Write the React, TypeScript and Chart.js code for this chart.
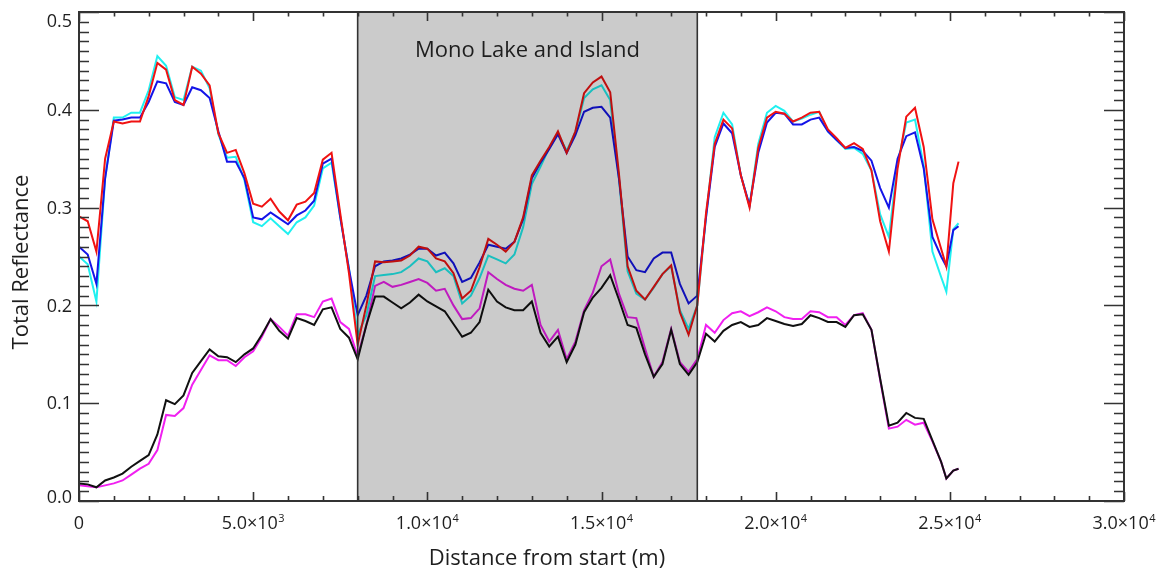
import React, { useEffect, useRef } from 'react';
import { Chart, registerables } from 'chart.js';

Chart.register(...registerables);

// Distance along the transect (m)
const distance = [
  0, 250, 500, 750, 1000, 1250, 1500, 1750, 2000, 2250,
  2500, 2750, 3000, 3250, 3500, 3750, 4000, 4250, 4500, 4750,
  5000, 5250, 5500, 5750, 6000, 6250, 6500, 6750, 7000, 7250,
  7500, 7750, 8000, 8250, 8500, 8750, 9000, 9250, 9500, 9750,
  10000, 10250, 10500, 10750, 11000, 11250, 11500, 11750, 12000, 12250,
  12500, 12750, 13000, 13250, 13500, 13750, 14000, 14250, 14500, 14750,
  15000, 15250, 15500, 15750, 16000, 16250, 16500, 16750, 17000, 17250,
  17500, 17750, 18000, 18250, 18500, 18750, 19000, 19250, 19500, 19750,
  20000, 20250, 20500, 20750, 21000, 21250, 21500, 21750, 22000, 22250,
  22500, 22750, 23000, 23250, 23500, 23750, 24000, 24250, 24500, 24750,
  24900, 25100, 25250,
];

const redSeries = [
  0.291, 0.286, 0.255, 0.350, 0.388, 0.386, 0.388, 0.388, 0.414, 0.448,
  0.441, 0.410, 0.405, 0.444, 0.437, 0.425, 0.376, 0.356, 0.359, 0.335,
  0.304, 0.301, 0.309, 0.296, 0.287, 0.303, 0.306, 0.315, 0.349, 0.356,
  0.294, 0.233, 0.160, 0.200, 0.245, 0.244, 0.245, 0.246, 0.251, 0.260,
  0.258, 0.248, 0.245, 0.233, 0.207, 0.215, 0.239, 0.268, 0.262, 0.255,
  0.265, 0.290, 0.333, 0.348, 0.362, 0.378, 0.356, 0.378, 0.417, 0.428,
  0.434, 0.418, 0.335, 0.240, 0.215, 0.206, 0.219, 0.232, 0.241, 0.193,
  0.170, 0.200, 0.294, 0.365, 0.390, 0.381, 0.333, 0.300, 0.361, 0.392,
  0.398, 0.396, 0.388, 0.392, 0.397, 0.398, 0.380, 0.371, 0.361, 0.366,
  0.360, 0.338, 0.286, 0.255, 0.340, 0.393, 0.402, 0.362, 0.288, 0.258,
  0.240, 0.325, 0.347,
];

const cyanSeries = [
  0.250, 0.242, 0.204, 0.330, 0.392, 0.392, 0.397, 0.397, 0.420, 0.455,
  0.445, 0.413, 0.410, 0.444, 0.440, 0.422, 0.375, 0.351, 0.352, 0.328,
  0.285, 0.281, 0.289, 0.281, 0.273, 0.285, 0.290, 0.302, 0.340, 0.346,
  0.290, 0.238, 0.170, 0.190, 0.230, 0.231, 0.232, 0.234, 0.240, 0.248,
  0.245, 0.234, 0.238, 0.230, 0.202, 0.210, 0.228, 0.251, 0.247, 0.243,
  0.252, 0.280, 0.324, 0.342, 0.361, 0.376, 0.358, 0.377, 0.412, 0.421,
  0.425, 0.410, 0.330, 0.235, 0.212, 0.206, 0.218, 0.232, 0.240, 0.195,
  0.176, 0.200, 0.290, 0.372, 0.397, 0.385, 0.333, 0.302, 0.365, 0.397,
  0.404, 0.399, 0.388, 0.391, 0.395, 0.398, 0.378, 0.369, 0.360, 0.361,
  0.355, 0.338, 0.293, 0.270, 0.345, 0.387, 0.390, 0.343, 0.255, 0.229,
  0.214, 0.278, 0.284,
];

const blueSeries = [
  0.260, 0.252, 0.222, 0.330, 0.389, 0.390, 0.392, 0.392, 0.408, 0.429,
  0.427, 0.408, 0.405, 0.423, 0.420, 0.412, 0.378, 0.347, 0.347, 0.330,
  0.290, 0.288, 0.295, 0.289, 0.283, 0.292, 0.297, 0.307, 0.345, 0.350,
  0.290, 0.237, 0.190, 0.210, 0.240, 0.245, 0.246, 0.248, 0.252, 0.258,
  0.258, 0.251, 0.254, 0.243, 0.224, 0.228, 0.244, 0.262, 0.260, 0.258,
  0.265, 0.288, 0.330, 0.346, 0.360, 0.375, 0.356, 0.374, 0.398, 0.402,
  0.403, 0.392, 0.330, 0.250, 0.236, 0.234, 0.248, 0.254, 0.254, 0.222,
  0.202, 0.210, 0.290, 0.362, 0.386, 0.376, 0.333, 0.302, 0.356, 0.387,
  0.397, 0.396, 0.385, 0.385, 0.390, 0.392, 0.378, 0.369, 0.361, 0.362,
  0.358, 0.348, 0.320, 0.300, 0.350, 0.373, 0.377, 0.340, 0.270, 0.250,
  0.240, 0.277, 0.281,
];

const magentaSeries = [
  0.016, 0.015, 0.014, 0.016, 0.018, 0.021, 0.027, 0.033, 0.038, 0.052,
  0.088, 0.087, 0.095, 0.119, 0.134, 0.149, 0.144, 0.144, 0.138, 0.147,
  0.153, 0.168, 0.186, 0.178, 0.169, 0.191, 0.191, 0.188, 0.204, 0.207,
  0.183, 0.176, 0.148, 0.180, 0.220, 0.224, 0.219, 0.221, 0.224, 0.227,
  0.223, 0.215, 0.217, 0.200, 0.186, 0.187, 0.197, 0.234, 0.227, 0.221,
  0.217, 0.215, 0.221, 0.180, 0.163, 0.175, 0.145, 0.163, 0.195, 0.213,
  0.240, 0.247, 0.212, 0.188, 0.187, 0.156, 0.127, 0.142, 0.176, 0.142,
  0.132, 0.145, 0.180, 0.172, 0.185, 0.192, 0.194, 0.189, 0.193, 0.198,
  0.194, 0.188, 0.186, 0.186, 0.194, 0.193, 0.188, 0.188, 0.180, 0.190,
  0.192, 0.175, 0.124, 0.074, 0.076, 0.083, 0.078, 0.080, 0.061, 0.040,
  0.023, 0.031, 0.033,
];

const blackSeries = [
  0.018, 0.017, 0.014, 0.021, 0.024, 0.028, 0.035, 0.041, 0.047, 0.068,
  0.103, 0.099, 0.108, 0.131, 0.143, 0.155, 0.148, 0.147, 0.142, 0.150,
  0.156, 0.170, 0.186, 0.174, 0.166, 0.187, 0.184, 0.180, 0.196, 0.198,
  0.176, 0.167, 0.145, 0.180, 0.209, 0.209, 0.203, 0.197, 0.203, 0.211,
  0.204, 0.199, 0.194, 0.181, 0.168, 0.172, 0.183, 0.216, 0.204, 0.198,
  0.195, 0.195, 0.204, 0.172, 0.158, 0.168, 0.142, 0.160, 0.193, 0.208,
  0.218, 0.231, 0.206, 0.180, 0.177, 0.150, 0.127, 0.140, 0.175, 0.140,
  0.129, 0.142, 0.171, 0.163, 0.174, 0.180, 0.183, 0.178, 0.180, 0.187,
  0.184, 0.181, 0.179, 0.181, 0.190, 0.187, 0.183, 0.183, 0.178, 0.190,
  0.191, 0.175, 0.125, 0.077, 0.080, 0.090, 0.085, 0.084, 0.062, 0.040,
  0.023, 0.031, 0.033,
];

// Axis ticks and labels
const xMajorTicks = [0, 5000, 10000, 15000, 20000, 25000, 30000];
const xTickMantissa = ['0', '5.0×10', '1.0×10', '1.5×10', '2.0×10', '2.5×10', '3.0×10'];
const xTickExponent = ['', '3', '4', '4', '4', '4', '4'];
const xMinorStep = 1000;
const yMajorTicks = [0, 0.1, 0.2, 0.3, 0.4, 0.5];
const yTickLabels = ['0.0', '0.1', '0.2', '0.3', '0.4', '0.5'];
const yMinorStep = 0.01;

const lakeStart = 8000;
const lakeEnd = 17750;
const lakeLabel = 'Mono Lake and Island';
const xTitle = 'Distance from start (m)';
const yTitle = 'Total Reflectance';

const FONT = '"Open Sans", "DejaVu Sans", sans-serif';
const AXIS_COLOR = '#333333';
const TEXT_COLOR = '#1e1e1e';

const idlPlugin = {
  id: 'idlFrame',
  beforeDraw(chart: any) {
    const { ctx, width, height } = chart;
    ctx.save();
    ctx.fillStyle = '#ffffff';
    ctx.fillRect(0, 0, width, height);
    ctx.restore();
  },
  afterDatasetsDraw(chart: any) {
    const { ctx, chartArea: a, scales } = chart;
    const xs = scales.x;
    const ys = scales.y;
    const x0 = xs.getPixelForValue(lakeStart);
    const x1 = xs.getPixelForValue(lakeEnd);

    // shaded lake region (multiplied over the lines)
    ctx.save();
    ctx.globalCompositeOperation = 'multiply';
    ctx.fillStyle = '#cbcbcb';
    ctx.fillRect(x0, a.top, x1 - x0, a.bottom - a.top);
    ctx.restore();

    ctx.save();
    ctx.strokeStyle = AXIS_COLOR;
    ctx.lineWidth = 1.6;
    ctx.beginPath();
    ctx.moveTo(x0, a.top);
    ctx.lineTo(x0, a.bottom);
    ctx.moveTo(x1, a.top);
    ctx.lineTo(x1, a.bottom);
    ctx.stroke();

    // frame
    ctx.lineWidth = 2;
    ctx.strokeRect(a.left, a.top, a.right - a.left, a.bottom - a.top);

    // x ticks (bottom & top)
    ctx.lineWidth = 1.6;
    ctx.beginPath();
    const xMax = xs.max;
    for (let i = 0; i * xMinorStep <= xMax + 1; i++) {
      const v = i * xMinorStep;
      const px = Math.round(xs.getPixelForValue(v)) + 0.5;
      const major = xMajorTicks.includes(v);
      const lb = major ? 9 : 5;
      const lt = major ? 9 : 4.5;
      ctx.moveTo(px, a.bottom);
      ctx.lineTo(px, a.bottom - lb);
      ctx.moveTo(px, a.top);
      ctx.lineTo(px, a.top + lt);
    }
    // y ticks (left & right)
    const yMax = ys.max;
    for (let i = 0; i * yMinorStep <= yMax + 1e-9; i++) {
      const v = i * yMinorStep;
      const py = Math.round(ys.getPixelForValue(v)) + 0.5;
      const major = i % 10 === 0;
      const l = major ? 20 : 10;
      ctx.moveTo(a.left, py);
      ctx.lineTo(a.left + l, py);
      ctx.moveTo(a.right, py);
      ctx.lineTo(a.right - l, py);
    }
    ctx.stroke();

    // y tick labels
    ctx.fillStyle = TEXT_COLOR;
    ctx.font = `18px ${FONT}`;
    ctx.textAlign = 'right';
    ctx.textBaseline = 'middle';
    yMajorTicks.forEach((v, i) => {
      let py = ys.getPixelForValue(v) + 1;
      if (i === 0) py -= 4;
      if (i === yMajorTicks.length - 1) py += 8.5;
      ctx.fillText(yTickLabels[i], a.left - 7, py);
    });

    // x tick labels with superscript exponents
    ctx.textBaseline = 'alphabetic';
    ctx.textAlign = 'left';
    xMajorTicks.forEach((v, i) => {
      const px = xs.getPixelForValue(v);
      ctx.font = `18px ${FONT}`;
      const wm = ctx.measureText(xTickMantissa[i]).width;
      ctx.font = `11px ${FONT}`;
      const we = xTickExponent[i] ? ctx.measureText(xTickExponent[i]).width + 0.5 : 0;
      const start = px - (wm + we) / 2;
      ctx.font = `18px ${FONT}`;
      ctx.fillText(xTickMantissa[i], start, 529);
      if (xTickExponent[i]) {
        ctx.font = `11px ${FONT}`;
        ctx.fillText(xTickExponent[i], start + wm + 0.5, 522);
      }
    });

    // titles
    ctx.font = `22px ${FONT}`;
    ctx.textAlign = 'center';
    ctx.textBaseline = 'alphabetic';
    ctx.fillText(xTitle, 547, 565);

    ctx.save();
    ctx.translate(28, 262);
    ctx.rotate(-Math.PI / 2);
    ctx.fillText(yTitle, 0, 0);
    ctx.restore();

    // lake annotation
    ctx.fillText(lakeLabel, (x0 + x1) / 2, 57);
    ctx.restore();
  },
};

function makeDataset(label: string, values: number[], color: string) {
  return {
    label,
    data: distance.map((d, i) => ({ x: d, y: values[i] })),
    borderColor: color,
    backgroundColor: color,
    borderWidth: 2,
    pointRadius: 0,
    tension: 0,
    fill: false,
  };
}

export default function App() {
  const canvasRef = useRef<HTMLCanvasElement | null>(null);

  useEffect(() => {
    if (!canvasRef.current) return;
    const chart = new Chart(canvasRef.current, {
      type: 'line',
      data: {
        datasets: [
          makeDataset('red', redSeries, '#f01212'),
          makeDataset('blue', blueSeries, '#1414e8'),
          makeDataset('cyan', cyanSeries, '#20f0f0'),
          makeDataset('black', blackSeries, '#111111'),
          makeDataset('magenta', magentaSeries, '#f020f0'),
        ],
      },
      options: {
        animation: false,
        responsive: false,
        devicePixelRatio: 1,
        layout: { padding: { left: 79, right: 39, top: 12, bottom: 68 } },
        plugins: { legend: { display: false }, tooltip: { enabled: false } },
        events: [],
        scales: {
          x: { type: 'linear', min: 0, max: 30000, display: false },
          y: { type: 'linear', min: 0, max: 0.5, display: false },
        },
      },
      plugins: [idlPlugin],
    });
    return () => chart.destroy();
  }, []);

  return (
    <div style={{ position: 'absolute', left: 0, top: 0, width: 1163, height: 569, background: '#fff' }}>
      <canvas ref={canvasRef} width={1163} height={569} style={{ display: 'block' }} />
    </div>
  );
}
